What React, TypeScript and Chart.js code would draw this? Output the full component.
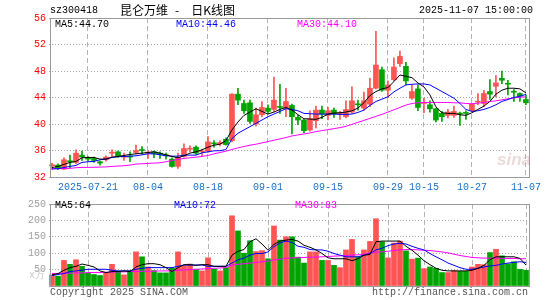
import React, { useEffect, useRef } from 'react';
import { Chart, registerables } from 'chart.js';

Chart.register(...registerables);

const dates = [
  '07-11','07-14','07-15','07-16','07-17','07-18','07-21','07-22','07-23','07-24',
  '07-25','07-28','07-29','07-30','07-31','08-01','08-04','08-05','08-06','08-07',
  '08-08','08-11','08-12','08-13','08-14','08-15','08-18','08-19','08-20','08-21',
  '08-22','08-25','08-26','08-27','08-28','08-29','09-01','09-02','09-03','09-04',
  '09-05','09-08','09-09','09-10','09-11','09-12','09-15','09-16','09-17','09-18',
  '09-19','09-22','09-23','09-24','09-25','09-26','09-29','09-30','10-09','10-10',
  '10-13','10-14','10-15','10-16','10-17','10-20','10-21','10-22','10-23','10-24',
  '10-27','10-28','10-29','10-30','10-31','11-03','11-04','11-05','11-06','11-07',
];

const openP = [
  33.7, 33.8, 33.2, 34.4, 34.2, 35.3, 34.9, 34.8, 34.3, 34.6,
  35.6, 35.8, 35.0, 35.1, 35.7, 36.1, 35.6, 35.8, 35.6, 35.3,
  34.7, 33.6, 35.1, 36.2, 36.5, 35.8, 35.9, 37.1, 37.0, 37.7,
  37.5, 44.5, 43.1, 43.2, 40.0, 41.4, 42.4, 42.2, 42.6, 42.4,
  42.8, 41.0, 40.6, 39.1, 40.5, 42.1, 41.3, 42.1, 41.5, 41.1,
  41.8, 43.0, 42.4, 43.0, 45.4, 48.2, 45.1, 46.7, 49.1, 48.7,
  43.9, 45.3, 43.1, 42.9, 42.3, 41.6, 41.3, 41.3, 41.6, 41.7,
  42.0, 43.3, 43.1, 44.9, 45.7, 46.9, 46.1, 44.9, 44.6, 43.7,
];
const closeP = [
  33.8, 33.4, 34.6, 34.3, 35.6, 35.0, 34.7, 34.5, 34.1, 35.0,
  35.7, 35.2, 35.1, 35.0, 36.0, 36.0, 35.7, 35.5, 35.4, 35.2,
  33.6, 35.0, 36.3, 36.35, 35.6, 35.9, 37.3, 37.0, 37.2, 36.9,
  44.5, 43.6, 42.0, 40.4, 41.4, 42.5, 41.9, 43.6, 42.5, 43.4,
  41.1, 40.6, 39.0, 40.8, 42.1, 41.5, 42.0, 41.5, 41.7, 42.2,
  43.5, 42.9, 43.5, 45.4, 48.9, 45.1, 45.9, 48.6, 50.2, 46.5,
  44.9, 42.5, 43.2, 42.3, 40.6, 41.1, 41.8, 41.9, 41.5, 41.6,
  43.0, 43.4, 44.6, 44.5, 46.2, 46.6, 46.0, 44.8, 44.2, 43.2,
];
const highP = [
  34.1, 34.0, 34.9, 35.3, 36.1, 35.9, 35.1, 35.0, 34.4, 35.2,
  36.1, 35.9, 35.6, 35.8, 36.8, 36.6, 35.9, 35.9, 35.8, 35.6,
  34.9, 35.6, 37.0, 36.7, 36.7, 36.2, 38.1, 37.5, 37.5, 37.9,
  44.6, 45.4, 43.6, 43.6, 42.4, 43.4, 42.9, 47.1, 46.0, 45.4,
  43.0, 41.3, 40.7, 42.0, 42.7, 42.7, 42.5, 42.4, 41.9, 43.5,
  45.6, 43.6, 44.8, 46.9, 54.0, 48.6, 46.5, 50.0, 51.0, 49.3,
  45.9, 45.9, 43.9, 43.5, 42.4, 41.9, 42.2, 42.7, 41.8, 42.0,
  43.1, 44.6, 45.1, 46.7, 47.3, 48.0, 46.6, 45.2, 44.7, 44.4,
];
const lowP = [
  33.1, 33.1, 33.1, 33.4, 34.0, 34.5, 34.4, 34.2, 33.8, 34.4,
  35.1, 35.0, 34.5, 34.3, 35.5, 35.5, 34.8, 34.9, 34.8, 34.7,
  33.5, 33.3, 35.0, 35.8, 35.4, 35.1, 35.7, 36.5, 36.7, 36.8,
  37.3, 42.9, 41.6, 40.1, 39.7, 41.1, 41.6, 41.9, 41.6, 41.1,
  38.5, 39.9, 38.7, 38.9, 39.4, 40.8, 40.6, 41.0, 40.7, 40.9,
  41.6, 42.1, 42.1, 42.6, 45.3, 44.9, 44.0, 46.5, 48.7, 45.9,
  43.7, 42.0, 41.7, 41.8, 40.3, 40.4, 40.9, 41.0, 39.8, 40.7,
  41.9, 42.9, 42.6, 43.7, 44.1, 46.1, 44.4, 43.4, 43.4, 42.9,
];
const volume = [
  34, 30, 78, 66, 80, 60, 39, 35, 32, 41,
  66, 44, 34, 46, 104, 89, 58, 47, 40, 40,
  54, 104, 62, 67, 51, 46, 86, 51, 46, 56,
  214, 168, 100, 138, 105, 108, 83, 183, 140, 150,
  150, 88, 70, 104, 104, 78, 78, 63, 56, 110,
  142, 89, 110, 136, 205, 135, 86, 131, 137, 107,
  82, 85, 53, 58, 54, 41, 41, 47, 45, 45,
  58, 66, 65, 102, 112, 92, 68, 74, 51, 48,
];
const ma5 = [
  33.43, 33.6, 33.9, 34.2, 34.35, 34.9, 34.95, 34.95, 34.7, 34.7,
  35.0, 35.1, 35.25, 35.4, 35.5, 35.6, 35.7, 35.8, 35.6, 35.35,
  35.1, 34.9, 35.2, 35.6, 35.8, 36.1, 36.5, 36.8, 36.95, 37.5,
  39.1, 40.3, 41.3, 41.8, 42.3, 41.9, 41.5, 41.8, 42.2, 42.5,
  42.1, 41.4, 40.8, 40.75, 40.7, 41.0, 41.5, 41.65, 41.7, 41.8,
  42.0, 42.4, 43.2, 44.3, 44.9, 45.3, 45.5, 46.4, 47.4, 47.2,
  47.0, 46.2, 45.6, 44.4, 42.6, 41.7, 41.6, 41.6, 41.4, 41.3,
  41.7, 42.2, 42.7, 43.4, 44.5, 45.1, 45.4, 45.4, 45.3, 44.7,
];
const ma10 = [
  33.23, 33.25, 33.43, 33.6, 33.75, 34.2, 34.3, 34.35, 34.6, 34.7,
  34.95, 35.05, 35.1, 35.15, 35.2, 35.35, 35.5, 35.5, 35.35, 35.2,
  35.15, 35.15, 35.3, 35.3, 35.3, 35.65, 35.8, 35.95, 35.97, 36.15,
  37.8, 38.6, 39.1, 39.6, 40.1, 40.6, 41.1, 41.5, 41.9, 42.3,
  42.2, 42.0, 41.6, 41.55, 41.5, 41.5, 41.5, 41.5, 41.45, 41.45,
  41.5, 41.75, 42.1, 42.8, 43.4, 43.75, 44.1, 44.85, 45.4, 45.9,
  46.0, 46.05, 46.05, 45.9, 45.4, 44.9, 44.4, 43.9, 43.1, 42.2,
  41.9, 42.0, 42.2, 42.5, 42.9, 43.4, 43.7, 44.0, 44.2, 44.46,
];
const ma30 = [
  33.25, 33.25, 33.27, 33.3, 33.4, 33.45, 33.45, 33.47, 33.5, 33.52,
  33.6, 33.65, 33.7, 33.8, 33.95, 34.0, 34.05, 34.1, 34.15, 34.3,
  34.5, 34.65, 34.8, 34.9, 35.0, 35.1, 35.25, 35.5, 35.7, 35.9,
  36.15, 36.4, 36.6, 36.8, 36.95, 37.15, 37.35, 37.55, 37.75, 37.95,
  38.2, 38.35, 38.5, 38.65, 38.85, 39.0, 39.15, 39.3, 39.45, 39.65,
  39.95, 40.25, 40.55, 40.85, 41.15, 41.45, 41.8, 42.15, 42.5, 42.85,
  43.1, 43.2, 43.25, 43.25, 43.25, 43.25, 43.25, 43.2, 43.2, 43.1,
  43.05, 43.15, 43.25, 43.4, 43.5, 43.65, 43.8, 43.95, 44.05, 44.1,
];
const vma5 = [
  34, 38, 48, 56, 60, 67, 63, 58, 46, 41,
  44, 44, 46, 44, 58, 65, 68, 68, 65, 56,
  44, 56, 65, 65, 63, 65, 65, 60, 60, 60,
  94, 106, 111, 135, 144, 128, 109, 127, 137, 140,
  142, 137, 124, 118, 110, 99, 86, 83, 83, 83,
  77, 83, 94, 96, 135, 137, 137, 137, 137, 121,
  109, 94, 77, 65, 54, 48, 46, 46, 46, 46,
  48, 54, 63, 80, 89, 89, 89, 89, 84, 64,
];
const vma10 = [
  32, 35, 38, 44, 46, 48, 51, 51, 51, 51,
  48, 46, 46, 46, 51, 54, 56, 56, 56, 56,
  56, 60, 64, 64, 64, 64, 60, 60, 60, 60,
  70, 80, 85, 94, 99, 99, 104, 120, 131, 137,
  133, 121, 118, 111, 110, 110, 106, 99, 94, 89,
  89, 89, 94, 99, 110, 115, 123, 128, 130, 128,
  121, 115, 110, 99, 89, 80, 70, 63, 56, 51,
  51, 54, 58, 61, 63, 67, 70, 72, 74, 72,
];
const vma30 = [
  38, 38, 39, 39, 40, 40, 41, 41, 41, 42,
  42, 43, 43, 44, 44, 45, 45, 45, 46, 46,
  46, 48, 49, 50, 51, 52, 53, 54, 55, 56,
  64, 66, 68, 70, 72, 74, 76, 79, 82, 84,
  86, 86, 87, 88, 88, 89, 90, 91, 92, 93,
  94, 95, 97, 100, 103, 104, 106, 108, 110, 111,
  111, 110, 109, 108, 106, 104, 101, 97, 93, 90,
  87, 86, 85, 85, 85, 84, 84, 84, 83, 83,
];

const axisDates = ['07-21', '08-04', '08-18', '09-01', '09-15', '09-29', '10-15', '10-27', '11-07'];
const axisTexts = ['2025-07-21', '08-04', '08-18', '09-01', '09-15', '09-29', '10-15', '10-27', '11-07'];

const RED = '#ff5454';
const GREEN = '#00a400';
const MONO = '"Liberation Mono", "DejaVu Sans Mono", monospace';
const CJK = '"Noto Sans CJK SC", sans-serif';
const VGRID = '#b4b4b4';
const HGRID = '#a8a8a8';

const candleColors = closeP.map((c, i) => (c >= openP[i] ? RED : GREEN));

const framePlugin = {
  id: 'frame',
  afterDraw(chart: any) {
    const { ctx, chartArea: a } = chart;
    ctx.save();
    ctx.strokeStyle = '#9a9a9a';
    ctx.lineWidth = 1;
    ctx.setLineDash([]);
    ctx.strokeRect(Math.round(a.left) + 1.5, Math.round(a.top) + 0.5, Math.round(a.width) - 1, Math.round(a.height));
    ctx.restore();
  },
};

const xGridColor = (ctx: any) => (axisDates.includes(dates[ctx.index]) ? VGRID : 'rgba(0,0,0,0)');

function lineDs(label: string, data: number[], color: string) {
  return {
    type: 'line' as const,
    label,
    data,
    borderColor: color,
    borderWidth: 1,
    pointRadius: 0,
    tension: 0,
    fill: false,
    order: 0,
  };
}

const txt = (extra: React.CSSProperties): React.CSSProperties => ({
  position: 'absolute',
  fontFamily: MONO,
  fontSize: 10,
  lineHeight: '12px',
  whiteSpace: 'nowrap',
  ...extra,
});

export default function App() {
  const priceRef = useRef<HTMLCanvasElement>(null);
  const volRef = useRef<HTMLCanvasElement>(null);

  useEffect(() => {
    const priceChart = new Chart(priceRef.current as HTMLCanvasElement, {
      type: 'bar',
      data: {
        labels: dates,
        datasets: [
          lineDs('MA5', ma5, '#000000'),
          lineDs('MA10', ma10, '#0000ff'),
          lineDs('MA30', ma30, '#ff00ff'),
          {
            type: 'bar',
            label: 'body',
            data: openP.map((o, i) => [o, closeP[i]]),
            backgroundColor: candleColors,
            barThickness: 5,
            minBarLength: 1,
            grouped: false,
            order: 1,
          } as any,
          {
            type: 'bar',
            label: 'wick',
            data: lowP.map((l, i) => [l, highP[i]]),
            backgroundColor: candleColors,
            barThickness: 1,
            grouped: false,
            order: 2,
          } as any,
        ],
      },
      options: {
        animation: false,
        responsive: false,
        maintainAspectRatio: false,
        layout: { padding: { left: 0, right: 16, top: 18, bottom: 0 } },
        plugins: { legend: { display: false }, tooltip: { enabled: false } },
        scales: {
          x: {
            type: 'category',
            offset: true,
            grid: { offset: false, color: xGridColor, drawTicks: false, lineWidth: 1 },
            border: { display: false, dash: [5, 3] },
            ticks: {
              autoSkip: false,
              maxRotation: 0,
              minRotation: 0,
              padding: 4,
              color: '#1a6fc4',
              font: { family: MONO, size: 10 },
              callback: (_v: any, i: number) => {
                const k = axisDates.indexOf(dates[i]);
                return k >= 0 ? axisTexts[k] : '';
              },
            },
            afterFit: (s: any) => {
              s.height = 18;
            },
          },
          y: {
            min: 32,
            max: 56,
            ticks: { stepSize: 4, color: '#ff0000', padding: 3, font: { family: MONO, size: 10 } },
            grid: { color: HGRID, drawTicks: false, lineWidth: 1 },
            border: { display: false, dash: [1, 2] },
            afterFit: (s: any) => {
              s.width = 49;
            },
          },
        },
      } as any,
      plugins: [framePlugin],
    });

    const volChart = new Chart(volRef.current as HTMLCanvasElement, {
      type: 'bar',
      data: {
        labels: dates,
        datasets: [
          lineDs('MA5', vma5, '#000000'),
          lineDs('MA10', vma10, '#0000ff'),
          lineDs('MA30', vma30, '#ff00ff'),
          {
            type: 'bar',
            label: 'volume',
            data: volume,
            backgroundColor: candleColors,
            barThickness: 5,
            grouped: false,
            order: 1,
          } as any,
        ],
      },
      options: {
        animation: false,
        responsive: false,
        maintainAspectRatio: false,
        layout: { padding: { left: 0, right: 16, top: 6, bottom: 0 } },
        plugins: { legend: { display: false }, tooltip: { enabled: false } },
        scales: {
          x: {
            type: 'category',
            offset: true,
            grid: { offset: false, color: xGridColor, drawTicks: false, lineWidth: 1 },
            border: { display: false, dash: [5, 3] },
            ticks: { display: false, autoSkip: false, maxRotation: 0 },
            afterFit: (s: any) => {
              s.height = 14;
            },
          },
          y: {
            min: 0,
            max: 250,
            ticks: {
              stepSize: 50,
              color: '#a0a0a0',
              padding: 3,
              font: { family: MONO, size: 10 },
              callback: (v: any) => (v === 0 ? '' : String(v)),
            },
            grid: { color: HGRID, drawTicks: false, lineWidth: 1 },
            border: { display: false, dash: [1, 2] },
            afterFit: (s: any) => {
              s.width = 49;
            },
          },
        },
      } as any,
      plugins: [framePlugin],
    });

    return () => {
      priceChart.destroy();
      volChart.destroy();
    };
  }, []);

  return (
    <div
      style={{
        position: 'fixed',
        left: 0,
        top: 0,
        width: 545,
        height: 300,
        background: '#ffffff',
        overflow: 'hidden',
      }}
    >
      <canvas ref={priceRef} width={545} height={195} style={{ position: 'absolute', left: 0, top: 0, width: 545, height: 195 }} />
      <canvas ref={volRef} width={545} height={105} style={{ position: 'absolute', left: 0, top: 195, width: 545, height: 105 }} />

      <div style={txt({ left: 50, top: 5, color: '#000' })}>sz300418</div>
      <div
        style={{
          position: 'absolute',
          left: 120,
          top: 3,
          fontFamily: CJK,
          fontSize: 12,
          lineHeight: '14px',
          color: '#000',
          whiteSpace: 'nowrap',
        }}
      >
        <span>昆仑万维</span>
        <span style={{ display: 'inline-block', marginLeft: 7, marginRight: 12 }}>-</span>
        <span>日K线图</span>
      </div>
      <div style={txt({ left: 419, top: 5, color: '#000' })}>2025-11-07 15:00:00</div>

      <div style={txt({ left: 55, top: 19, color: '#000' })}>MA5:44.70</div>
      <div style={txt({ left: 176, top: 19, color: '#0000ff' })}>MA10:44.46</div>
      <div style={txt({ left: 297, top: 19, color: '#ff00ff' })}>MA30:44.10</div>

      <div
        style={{
          position: 'absolute',
          left: 497,
          top: 150,
          fontFamily: '"Liberation Sans", sans-serif',
          fontWeight: 'bold',
          fontStyle: 'italic',
          fontSize: 17,
          lineHeight: '20px',
          color: 'rgba(200,150,150,0.35)',
        }}
      >
        sina
      </div>

      <div style={txt({ left: 55, top: 200, color: '#000' })}>MA5:64</div>
      <div style={txt({ left: 174, top: 200, color: '#0000ff' })}>MA10:72</div>
      <div style={txt({ left: 295, top: 200, color: '#ff00ff' })}>MA30:83</div>

      <div style={txt({ left: 29, top: 270, color: '#c8c8c8' })}>x万</div>
      <div style={txt({ left: 50, top: 287, color: '#555' })}>Copyright 2025 SINA.COM</div>
      <div style={txt({ left: 372, top: 287, color: '#555' })}>http://finance.sina.com.cn</div>
    </div>
  );
}
